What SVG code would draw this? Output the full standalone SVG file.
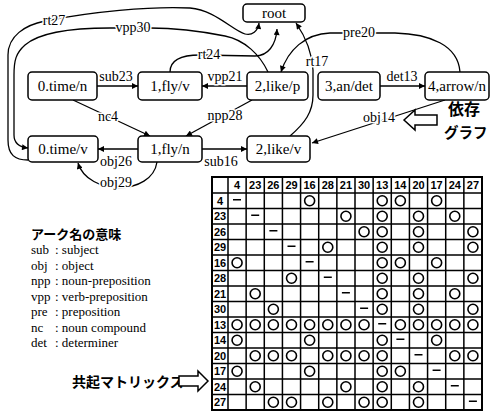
<svg xmlns="http://www.w3.org/2000/svg" width="491" height="412" viewBox="0 0 491 412">
<style>
.nd rect{fill:#fff;stroke:#000;stroke-width:1.5}
.nd text{font-family:"Liberation Serif",serif;font-size:15px;text-anchor:middle;fill:#000}
.e path{fill:none;stroke:#000;stroke-width:1.3}
.lb{font-family:"Liberation Serif",serif;font-size:14px;text-anchor:middle;fill:#000;stroke:#fff;stroke-width:3;paint-order:stroke;stroke-linejoin:round}
.lg{font-family:"Liberation Serif",serif;font-size:13px;fill:#000}
.jp{font-family:"Noto Sans CJK JP",sans-serif;font-weight:bold;fill:#000}
.grid{fill:none;stroke:#000;stroke-width:1.5}
.hd{font-family:"Liberation Sans",Arial,sans-serif;font-weight:bold;font-size:11px;fill:#000}
.hd .c{text-anchor:middle}
.o circle{fill:#fff;stroke:#000;stroke-width:1.6}
.ds{fill:none;stroke:#000;stroke-width:1.4}
.ba{fill:#fff;stroke:#000;stroke-width:1.5;stroke-linejoin:miter}
</style>
<defs>
<marker id="a" viewBox="0 0 10 10" refX="10" refY="5" markerWidth="8" markerHeight="6" orient="auto" markerUnits="userSpaceOnUse"><path d="M0,0L10,5L0,10z" fill="#000"/></marker>
</defs>

<g id="connectors" class="e">
<path d="M97,86H138" marker-end="url(#a)"/>
<path d="M247,86H202" marker-end="url(#a)"/>
<path d="M380,86H425" marker-end="url(#a)"/>
<path d="M138,149H98" marker-end="url(#a)"/>
<path d="M202,149H247" marker-end="url(#a)"/>
<path d="M73,100L150,136" marker-end="url(#a)"/>
<path d="M252,100L186,136" marker-end="url(#a)"/>
<path d="M157,162C152,196 88,196 78,163" marker-end="url(#a)"/>
<path d="M445,100L312,143" marker-end="url(#a)"/>
<path d="M170,72C170,59 184,55 200,55L255,56C268,56 276,45 277,29" marker-end="url(#a)"/>
<path d="M28,160C15,160 8,155 8,140L8,55C8,36 25,25 45,21C90,12 150,6 190,8C215,10 232,30 245,34C252,36 258,31 259,23" marker-end="url(#a)"/>
<path d="M268,72C260,55 245,40 225,36C200,31 170,28 150,28L110,28C70,28 40,32 25,45C16,53 14,60 14,75L14,135C14,143 19,147 28,148" marker-end="url(#a)"/>
<path d="M460,72C458,45 430,34 395,33L330,33C305,34 288,50 281,72" marker-end="url(#a)"/>
<path d="M290,136C305,123 313,112 313,95L313,70C312,52 305,36 296,23" marker-end="url(#a)"/>
<text class="lb" x="116" y="81">sub23</text>
<text class="lb" x="225" y="81">vpp21</text>
<text class="lb" x="402" y="81">det13</text>
<text class="lb" x="116" y="166">obj26</text>
<text class="lb" x="221" y="166">sub16</text>
<text class="lb" x="108" y="121">nc4</text>
<text class="lb" x="225" y="120">npp28</text>
<text class="lb" x="116" y="187">obj29</text>
<text class="lb" x="379" y="122">obj14</text>
<text class="lb" x="209" y="59">rt24</text>
<text class="lb" x="54" y="25">rt27</text>
<text class="lb" x="133" y="32">vpp30</text>
<text class="lb" x="359" y="37">pre20</text>
<text class="lb" x="317" y="66">rt17</text>
</g>

<g id="root" class="nd"><rect x="243" y="4" width="62" height="18" rx="4"/><text x="274" y="18">root</text></g>
<g id="n0" class="nd"><rect x="28" y="72" width="69" height="28" rx="4"/><text x="62.5" y="91">0.time/n</text></g>
<g id="n1" class="nd"><rect x="138" y="72" width="64" height="28" rx="4"/><text x="170" y="91">1,fly/v</text></g>
<g id="n2" class="nd"><rect x="247" y="72" width="61" height="28" rx="4"/><text x="277.5" y="91">2,like/p</text></g>
<g id="n3" class="nd"><rect x="318" y="72" width="62" height="28" rx="4"/><text x="349" y="91">3,an/det</text></g>
<g id="n4" class="nd"><rect x="425" y="72" width="64" height="28" rx="4"/><text x="457" y="91">4,arrow/n</text></g>
<g id="m0" class="nd"><rect x="28" y="136" width="70" height="26" rx="4"/><text x="63" y="154">0.time/v</text></g>
<g id="m1" class="nd"><rect x="138" y="136" width="64" height="26" rx="4"/><text x="170" y="154">1,fly/n</text></g>
<g id="m2" class="nd"><rect x="247" y="136" width="63" height="26" rx="4"/><text x="278.5" y="154">2,like/v</text></g>

<g id="graph-caption">
<polygon class="ba" points="404,120 415,110 415,115 437,115 437,125 415,125 415,130"/>
<text class="jp" x="448" y="115" font-size="16">依存</text>
<text class="jp" x="444" y="138" font-size="14.5">グラフ</text>
</g>

<g id="legend">
<text class="jp" x="31" y="239" font-size="13">アーク名の意味</text>
<g class="lg">
<text x="31" y="254">sub</text><text x="55" y="254">: subject</text>
<text x="31" y="269.5">obj</text><text x="55" y="269.5">: object</text>
<text x="31" y="285">npp</text><text x="55" y="285">: noun-preposition</text>
<text x="31" y="300.5">vpp</text><text x="55" y="300.5">: verb-preposition</text>
<text x="31" y="316">pre</text><text x="55" y="316">: preposition</text>
<text x="31" y="331.5">nc</text><text x="55" y="331.5">: noun compound</text>
<text x="31" y="347">det</text><text x="55" y="347">: determiner</text>
</g>
</g>

<g id="matrix-caption">
<text class="jp" x="72" y="387" font-size="14">共起マトリックス</text>
<polygon class="ba" points="208,381 198,371 198,376 179,376 179,386 198,386 198,391"/>
</g>

<g id="matrix">
<rect x="212" y="177" width="270" height="233" fill="#fff" stroke="#000" stroke-width="2"/>
<path class="grid" d="M228,177V410M246.14,177V410M264.29,177V410M282.43,177V410M300.57,177V410M318.71,177V410M336.86,177V410M355,177V410M373.14,177V410M391.29,177V410M409.43,177V410M427.57,177V410M445.71,177V410M463.86,177V410M212,193H482M212,208.5H482M212,224H482M212,239.5H482M212,255H482M212,270.5H482M212,286H482M212,301.5H482M212,317H482M212,332.5H482M212,348H482M212,363.5H482M212,379H482M212,394.5H482"/>
<g class="hd">
<text class="c" x="237.07" y="189">4</text><text class="c" x="255.21" y="189">23</text><text class="c" x="273.36" y="189">26</text><text class="c" x="291.5" y="189">29</text><text class="c" x="309.64" y="189">16</text><text class="c" x="327.79" y="189">28</text><text class="c" x="345.93" y="189">21</text><text class="c" x="364.07" y="189">30</text><text class="c" x="382.21" y="189">13</text><text class="c" x="400.36" y="189">14</text><text class="c" x="418.5" y="189">20</text><text class="c" x="436.64" y="189">17</text><text class="c" x="454.79" y="189">24</text><text class="c" x="472.93" y="189">27</text>
<text x="217" y="204.75">4</text><text x="214" y="220.25">23</text><text x="214" y="235.75">26</text><text x="214" y="251.25">29</text><text x="214" y="266.75">16</text><text x="214" y="282.25">28</text><text x="214" y="297.75">21</text><text x="214" y="313.25">30</text><text x="214" y="328.75">13</text><text x="214" y="344.25">14</text><text x="214" y="359.75">20</text><text x="214" y="375.25">17</text><text x="214" y="390.75">24</text><text x="214" y="406.25">27</text>
</g>
<path class="ds" d="M233,199.75h8M251.2,215.25h8M269.4,230.75h8M287.5,246.25h8M305.6,261.75h8M323.8,277.25h8M341.9,292.75h8M360.1,308.25h8M378.2,323.75h8M396.4,339.25h8M414.5,354.75h8M432.6,370.25h8M450.8,385.75h8M468.9,401.25h8"/>
<g class="o">
<circle cx="309.64" cy="200.75" r="5"/><circle cx="382.21" cy="200.75" r="5"/><circle cx="400.36" cy="200.75" r="5"/><circle cx="436.64" cy="200.75" r="5"/>
<circle cx="345.93" cy="216.25" r="5"/><circle cx="382.21" cy="216.25" r="5"/><circle cx="418.5" cy="216.25" r="5"/><circle cx="454.79" cy="216.25" r="5"/>
<circle cx="364.07" cy="231.75" r="5"/><circle cx="382.21" cy="231.75" r="5"/><circle cx="418.5" cy="231.75" r="5"/><circle cx="472.93" cy="231.75" r="5"/>
<circle cx="327.79" cy="247.25" r="5"/><circle cx="382.21" cy="247.25" r="5"/><circle cx="418.5" cy="247.25" r="5"/><circle cx="472.93" cy="247.25" r="5"/>
<circle cx="237.07" cy="262.75" r="5"/><circle cx="382.21" cy="262.75" r="5"/><circle cx="400.36" cy="262.75" r="5"/><circle cx="436.64" cy="262.75" r="5"/>
<circle cx="291.5" cy="278.25" r="5"/><circle cx="382.21" cy="278.25" r="5"/><circle cx="418.5" cy="278.25" r="5"/><circle cx="472.93" cy="278.25" r="5"/>
<circle cx="255.21" cy="293.75" r="5"/><circle cx="382.21" cy="293.75" r="5"/><circle cx="418.5" cy="293.75" r="5"/><circle cx="454.79" cy="293.75" r="5"/>
<circle cx="273.36" cy="309.25" r="5"/><circle cx="382.21" cy="309.25" r="5"/><circle cx="418.5" cy="309.25" r="5"/><circle cx="472.93" cy="309.25" r="5"/>
<circle cx="237.07" cy="324.75" r="5"/><circle cx="255.21" cy="324.75" r="5"/><circle cx="273.36" cy="324.75" r="5"/><circle cx="291.5" cy="324.75" r="5"/><circle cx="309.64" cy="324.75" r="5"/><circle cx="327.79" cy="324.75" r="5"/><circle cx="345.93" cy="324.75" r="5"/><circle cx="364.07" cy="324.75" r="5"/><circle cx="400.36" cy="324.75" r="5"/><circle cx="418.5" cy="324.75" r="5"/><circle cx="436.64" cy="324.75" r="5"/><circle cx="454.79" cy="324.75" r="5"/><circle cx="472.93" cy="324.75" r="5"/>
<circle cx="237.07" cy="340.25" r="5"/><circle cx="309.64" cy="340.25" r="5"/><circle cx="382.21" cy="340.25" r="5"/><circle cx="436.64" cy="340.25" r="5"/>
<circle cx="255.21" cy="355.75" r="5"/><circle cx="273.36" cy="355.75" r="5"/><circle cx="291.5" cy="355.75" r="5"/><circle cx="327.79" cy="355.75" r="5"/><circle cx="345.93" cy="355.75" r="5"/><circle cx="364.07" cy="355.75" r="5"/><circle cx="382.21" cy="355.75" r="5"/><circle cx="454.79" cy="355.75" r="5"/><circle cx="472.93" cy="355.75" r="5"/>
<circle cx="237.07" cy="371.25" r="5"/><circle cx="309.64" cy="371.25" r="5"/><circle cx="382.21" cy="371.25" r="5"/><circle cx="400.36" cy="371.25" r="5"/>
<circle cx="255.21" cy="386.75" r="5"/><circle cx="345.93" cy="386.75" r="5"/><circle cx="382.21" cy="386.75" r="5"/><circle cx="418.5" cy="386.75" r="5"/>
<circle cx="273.36" cy="402.25" r="5"/><circle cx="291.5" cy="402.25" r="5"/><circle cx="327.79" cy="402.25" r="5"/><circle cx="364.07" cy="402.25" r="5"/><circle cx="382.21" cy="402.25" r="5"/><circle cx="418.5" cy="402.25" r="5"/>
</g>
</g>
</svg>
